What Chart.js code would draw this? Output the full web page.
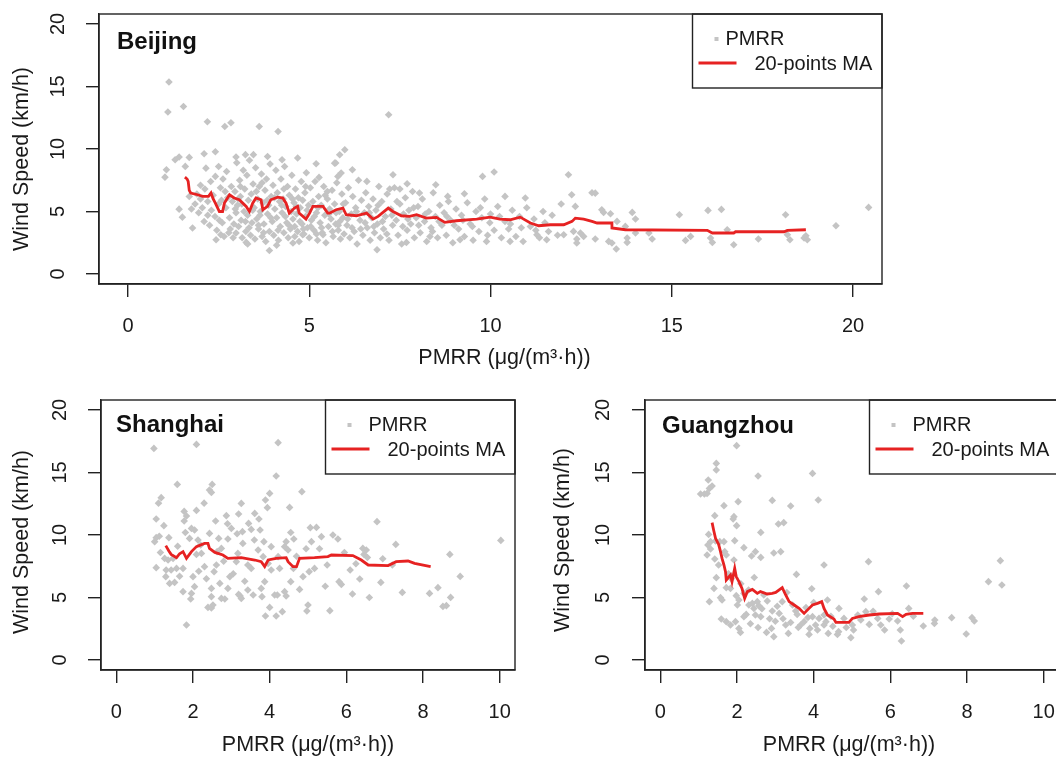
<!DOCTYPE html>
<html>
<head>
<meta charset="utf-8">
<script src="https://cdn.jsdelivr.net/npm/chart.js@4.4.1/dist/chart.umd.min.js"></script>
<style>
  html, body { margin: 0; padding: 0; background: #fff; }
  body { position: relative; width: 1056px; height: 759px; overflow: hidden; }
  canvas { position: absolute; }
  #beijing { left: 0; top: 0; }
  #shanghai { left: 0; top: 385px; }
  #guangzhou { left: 545px; top: 385px; }
</style>
</head>
<body>
<canvas id="beijing" width="1056" height="375"></canvas>
<canvas id="shanghai" width="530" height="374"></canvas>
<canvas id="guangzhou" width="530" height="374"></canvas>
<script>
// ---- data: [PMRR, wind speed] ----
const speedTicks = [0, 5, 10, 15, 20];
const wideTicks = [0, 5, 10, 15, 20];
const narrowTicks = [0, 2, 4, 6, 8, 10];

const beijingPoints = [
  [1.13,15.36],[1.10,12.96],[1.53,13.4],[2.19,12.18],[2.67,11.8],[2.84,12.1],[3.62,11.8],[4.14,11.4],[7.19,12.74],
  [1.02,7.75],[1.06,8.34],[1.30,9.14],[1.41,9.36],[1.69,9.33],[1.58,8.61],[2.10,9.62],[2.41,9.78],[2.15,8.47],[2.41,7.81],
  [1.41,5.19],[1.50,4.55],[1.78,3.68],[1.69,6.2],[2.43,2.74],[2.56,3.14],[2.98,3.28],[3.26,2.53],[3.90,1.88],[4.55,2.48],[4.82,3.14],[5.38,3.14],
  [2.98,9.36],[3.24,9.55],[3.46,9.55],[3.85,9.4],[4.25,9.14],[4.68,9.28],[5.19,8.82],[5.27,7.73],[5.70,8.87],[5.79,7.81],
  [5.98,9.94],[5.84,9.54],[5.73,8.88],[5.88,8.08],[6.19,8.34],[7.31,7.94],[6.59,7.41],[7.22,6.8],[7.50,6.8],[7.70,7.22],[8.49,7.14],
  [9.78,7.81],[10.10,8.16],[12.15,7.94],[12.24,6.34],[10.40,6.21],[10.96,6.08],[9.28,6.42],[8.82,6.21],[8.04,6.48],
  [6.87,1.94],[7.68,2.52],[8.33,3.0],[9.16,2.74],[9.89,2.61],[10.54,2.61],[11.28,3.14],[11.55,2.74],[12.02,3.14],[12.38,2.48],
  [12.8,6.5],[12.89,6.47],[12.34,5.41],[13.07,5.14],[13.12,4.93],[13.31,4.82],[13.49,4.21],[13.91,4.93],[14.0,4.40],
  [12.29,3.41],[12.48,3.28],[12.38,2.80],[12.57,3.01],[12.89,2.8],[13.26,2.61],[13.35,2.48],[13.47,2.0],[13.72,3.81],
  [13.77,2.88],[13.77,2.53],[14.0,3.28],[14.37,3.28],[14.46,2.8],[15.21,4.74],[15.38,2.69],[15.52,3.01],[16.0,5.09],
  [16.37,5.17],[16.07,2.88],[16.12,2.53],[16.53,3.54],[16.71,2.34],[17.39,2.8],[18.14,4.74],[18.19,3.14],[18.26,2.74],
  [18.65,2.88],[18.74,2.74],[18.70,3.06],[19.53,3.86],[20.43,5.33],
  [1.85,5.6],[1.9,6.4],[1.95,4.9],[2.0,7.1],[2.05,5.3],[2.1,4.2],[2.12,6.8],[2.2,5.8],[2.25,3.9],[2.28,7.4],[2.3,5.1],
  [2.35,6.3],[2.4,4.6],[2.45,3.5],[2.5,8.6],[2.5,5.6],[2.55,6.9],[2.6,4.1],[2.62,7.6],[2.65,3.0],[2.7,5.3],[2.72,8.2],
  [2.75,6.1],[2.8,4.5],[2.82,3.6],[2.85,7.0],[2.88,5.8],[2.9,2.9],[2.95,6.6],[2.98,4.9],
  [3.0,8.9],[3.02,5.5],[3.05,3.8],[3.08,7.5],[3.1,6.2],[3.12,4.3],[3.15,2.9],[3.18,8.3],[3.2,5.0],[3.22,6.8],[3.25,3.4],
  [3.28,7.9],[3.3,4.7],[3.32,5.9],[3.35,9.1],[3.38,3.1],[3.4,6.4],[3.42,4.1],[3.45,7.2],[3.48,5.3],[3.5,2.8],[3.52,8.5],
  [3.55,4.4],[3.58,6.0],[3.6,3.6],[3.62,7.0],[3.65,5.0],[3.68,8.0],[3.7,3.0],[3.72,5.7],[3.75,4.0],[3.78,6.7],[3.8,2.6],
  [3.82,7.6],[3.85,4.8],[3.88,5.5],[3.9,3.4],[3.92,8.8],[3.95,6.2],[3.98,4.2],
  [4.0,7.1],[4.02,3.1],[4.05,5.2],[4.08,8.3],[4.1,4.5],[4.12,6.5],[4.15,2.7],[4.18,5.8],[4.2,3.8],[4.22,7.6],[4.25,4.9],
  [4.28,6.0],[4.3,3.3],[4.32,8.6],[4.35,5.4],[4.38,4.1],[4.4,7.0],[4.42,2.9],[4.45,6.3],[4.48,3.6],[4.5,5.0],[4.52,7.9],
  [4.55,4.4],[4.58,5.7],[4.6,3.0],[4.62,6.8],[4.65,4.8],[4.68,3.4],[4.7,6.1],[4.72,2.6],[4.75,5.3],[4.78,7.4],[4.8,4.0],
  [4.82,5.9],[4.85,3.2],[4.88,6.5],[4.9,4.6],[4.92,8.1],[4.95,3.7],[4.98,5.5],
  [5.0,2.9],[5.03,6.9],[5.06,4.3],[5.1,5.8],[5.13,3.5],[5.16,7.4],[5.2,4.9],[5.23,2.7],[5.26,6.2],[5.3,4.1],[5.33,5.5],
  [5.36,3.3],[5.4,7.0],[5.43,4.7],[5.46,2.5],[5.5,6.0],[5.53,3.8],[5.56,5.2],[5.6,4.4],[5.63,6.7],[5.66,3.0],[5.7,5.6],
  [5.73,4.0],[5.76,7.3],[5.8,3.5],[5.83,5.0],[5.86,2.8],[5.9,6.4],[5.93,4.5],[5.96,3.2],
  [6.0,5.7],[6.04,3.9],[6.08,6.9],[6.12,2.9],[6.16,4.8],[6.2,6.2],[6.24,3.4],[6.28,5.3],[6.32,2.4],[6.36,7.5],[6.4,4.3],
  [6.44,5.9],[6.48,3.1],[6.52,4.9],[6.56,6.5],[6.6,3.7],[6.64,5.4],[6.68,2.7],[6.72,4.5],[6.76,6.0],[6.8,3.3],[6.84,5.1],
  [6.88,4.0],[6.92,7.0],[6.96,2.9],
  [7.0,5.8],[7.05,3.6],[7.1,4.6],[7.15,6.4],[7.2,2.7],[7.25,5.2],[7.3,3.9],[7.35,6.9],[7.4,4.3],[7.45,3.1],[7.5,5.6],
  [7.55,2.4],[7.6,4.8],[7.65,6.1],[7.7,3.5],[7.75,5.1],[7.8,4.0],[7.85,6.6],[7.9,2.9],[7.95,4.5],
  [8.0,5.4],[8.06,3.3],[8.12,6.0],[8.18,4.2],[8.24,2.6],[8.3,5.0],[8.36,3.7],[8.42,6.5],[8.48,4.6],[8.54,2.9],[8.6,5.5],
  [8.66,3.9],[8.72,4.9],[8.78,3.1],[8.84,5.8],[8.9,4.3],[8.96,2.5],
  [9.05,5.2],[9.12,3.6],[9.2,4.7],[9.28,3.0],[9.36,5.7],[9.44,4.0],[9.52,2.7],[9.6,5.0],[9.68,3.4],[9.76,4.5],[9.84,6.0],[9.92,3.1],
  [10.0,4.8],[10.1,3.5],[10.2,5.4],[10.3,2.9],[10.4,4.2],[10.5,3.6],[10.6,5.1],[10.7,3.0],[10.8,4.6],[10.9,2.6],
  [11.0,5.3],[11.1,3.8],[11.2,4.4],[11.35,2.9],[11.45,5.0],[11.6,3.4],[11.7,4.7],[11.85,3.1],[11.95,5.6],
  [2.52,4.3],[2.58,5.9],[2.68,6.6],[2.78,3.3],[2.92,4.0],[2.96,5.2],[3.04,6.0],[3.14,5.6],[3.24,4.2],[3.34,3.7],[3.44,5.1],
  [3.54,6.6],[3.64,4.7],[3.74,3.3],[3.84,5.9],[3.94,4.5],[4.04,6.1],[4.14,3.5],[4.24,5.5],[4.34,4.6],[4.44,3.9],[4.54,6.0],
  [4.64,5.4],[4.74,4.2],[4.84,3.6],[4.94,5.1],[5.04,3.8],[5.14,4.6],[5.24,5.3],[5.34,3.7],[5.44,6.3],[5.54,4.8],[5.64,3.4],
  [5.74,4.9],[5.84,4.2],[5.94,5.6],[6.06,4.4],[6.18,3.7],[6.3,5.0],[6.42,3.6],[6.54,4.1],[6.66,4.9],[6.78,3.8],[6.9,5.5],
  [7.02,4.2],[7.14,3.2],[7.28,4.7],[7.42,5.8],[7.58,3.8],[7.72,4.4],[7.88,5.3],[8.02,3.9],[8.2,4.8],[8.4,3.4],[8.58,4.2],
  [8.8,4.6],[9.0,3.9],[9.24,4.3],[9.5,3.8],[9.72,5.3],[9.98,4.1],[10.25,4.6],[10.55,4.0],[10.85,3.7],[11.25,3.5],[11.5,4.1],
  [3.1,7.0],[3.7,7.3],[4.3,6.8],[4.9,7.0],[5.5,6.6],[2.2,4.7],[2.0,6.0],[1.75,5.2],[3.6,3.9],[4.6,3.8],[5.2,3.2],[5.8,3.9],
  [4.1,2.3],[3.3,2.4]
];
const beijingMA = [
  [1.57,7.75],[1.63,7.6],[1.66,7.41],[1.69,6.69],[1.73,6.48],[1.92,6.34],[2.06,6.21],[2.22,6.21],[2.29,6.48],[2.35,6.0],
  [2.41,5.67],[2.52,5.0],[2.61,5.0],[2.66,5.67],[2.8,6.34],[2.93,6.08],[3.07,5.94],[3.26,5.41],[3.35,5.0],[3.44,5.67],
  [3.53,6.08],[3.67,5.94],[3.72,5.14],[3.85,5.41],[3.94,5.94],[4.13,6.15],[4.27,6.08],[4.36,5.67],[4.45,4.87],[4.59,5.27],
  [4.68,5.41],[4.72,4.87],[4.91,4.39],[5.01,4.87],[5.10,5.41],[5.38,5.41],[5.51,4.87],[5.56,4.87],[5.74,5.14],[5.93,5.27],
  [6.02,4.74],[6.30,4.66],[6.58,4.87],[6.76,4.39],[6.90,4.61],[7.18,5.27],[7.31,5.0],[7.54,4.66],[7.77,4.61],[7.96,4.74],
  [8.23,4.47],[8.51,4.53],[8.74,4.13],[9.06,4.26],[9.62,4.39],[9.99,4.55],[10.26,4.39],[10.54,4.34],[10.82,4.55],[11.1,4.08],
  [11.33,3.86],[11.65,3.94],[12.02,3.94],[12.25,4.21],[12.34,4.47],[12.57,4.39],[12.8,4.21],[12.94,4.08],[13.35,4.08],
  [13.35,3.68],[13.72,3.54],[15.98,3.49],[16.12,3.28],[16.71,3.28],[16.76,3.38],[18.1,3.38],[18.19,3.49],[18.70,3.54]
];

const shanghaiPoints = [
  [0.98,16.93],[2.09,17.25],[4.22,17.39],[4.17,14.72],[4.84,13.47],[1.59,14.05],[2.50,14.05],[2.48,13.41],[2.43,13.6],
  [1.17,12.99],[1.10,12.55],[1.04,11.28],[2.29,12.55],[2.09,11.97],[1.77,11.89],[1.83,11.52],[1.77,11.12],[3.26,12.53],
  [3.19,11.68],[3.45,10.93],[2.87,11.55],[2.59,11.12],[3.89,12.8],[4.0,13.33],[3.94,12.19],[3.61,11.73],[3.72,11.28],
  [4.52,12.21],[1.24,10.75],[1.04,9.79],[1.0,9.47],[1.37,9.79],[1.96,10.53],[2.04,10.4],[1.91,9.73],[2.13,9.6],[2.43,10.13],
  [2.67,9.73],[3.0,10.53],[2.91,9.68],[3.29,10.27],[3.30,9.33],[3.52,10.45],[3.85,9.47],[4.04,9.07],[4.43,9.47],[4.39,9.07],
  [4.48,8.8],[4.63,9.68],[5.06,10.59],[5.22,10.61],[5.35,9.87],[5.09,9.47],[5.78,9.68],[6.43,8.93],[6.52,8.8],[6.46,8.45],
  [6.80,11.07],[7.29,9.25],[8.70,8.45],[10.03,9.57],[8.97,6.69],[8.39,5.79],[8.17,5.33],[8.72,5.01],[8.61,4.35],[8.52,4.29],
  [7.46,5.41],[6.90,6.21],[6.16,5.28],[6.35,6.48],[5.81,6.27],[5.87,6.05],[6.10,7.2],[5.57,3.95],[4.97,3.92],[5.0,4.4],
  [4.78,5.65],[4.87,6.67],[5.17,7.33],[5.03,7.07],[4.55,6.27],[4.62,7.33],[4.17,3.52],[4.33,3.87],[3.89,3.52],[4.0,4.21],
  [3.8,5.07],[4.13,5.2],[4.2,5.2],[4.43,5.12],[4.39,5.47],[3.78,5.73],[3.87,6.27],[3.57,5.2],[3.43,5.6],[3.23,5.12],
  [3.26,4.93],[3.19,5.25],[2.96,6.67],[2.70,6.13],[2.91,5.73],[2.74,4.93],[2.83,4.88],[2.48,5.07],[2.48,5.73],[2.39,4.21],
  [2.48,4.16],[2.52,4.4],[2.0,6.67],[2.04,5.87],[1.96,5.33],[1.94,4.88],[1.74,5.47],[1.83,2.8],[1.39,6.13],[1.52,6.21],
  [1.29,6.67],[1.30,7.2],[1.43,7.2],[1.57,7.33],[1.74,7.33],[1.04,7.39],[1.26,8.13],[1.35,8.0],[1.48,8.13],[2.30,7.47],
  [2.55,7.07],[2.61,7.6],[2.74,8.93],[2.63,8.67],[2.22,8.53],[2.09,8.45],[3.17,8.53],[3.13,7.87],[3.43,7.6],[3.52,7.33],
  [3.70,8.8],[3.83,8.27],[3.96,7.73],[4.04,7.2],[4.22,8.27],[4.26,7.33],
  [1.12,9.9],[1.6,9.1],[1.8,10.2],[2.2,9.2],[2.35,6.5],[2.8,7.9],[3.05,6.9],[3.35,6.3],[3.6,9.6],[3.15,10.1],[4.7,8.3],
  [5.3,8.9],[5.5,7.6],[5.95,8.6],[6.25,7.7],[6.6,5.0],[5.45,5.9],[4.95,8.9],[1.15,8.6],[1.65,6.7],[2.15,7.1],[2.9,10.9],
  [3.75,10.4],[4.55,10.2],[5.65,10.0],[6.55,8.2],[7.2,7.6],[6.95,8.1]
];
const shanghaiMA = [
  [1.29,9.15],[1.37,8.72],[1.43,8.45],[1.57,8.19],[1.65,8.5],[1.74,8.67],[1.83,8.13],[1.96,8.67],[2.09,9.07],[2.30,9.33],
  [2.39,9.33],[2.43,8.93],[2.57,8.61],[2.78,8.4],[2.91,8.13],[3.26,8.19],[3.61,8.0],[3.78,7.87],[3.87,7.47],[3.96,8.0],
  [4.17,8.13],[4.43,8.19],[4.48,7.87],[4.61,7.47],[4.70,7.47],[4.78,8.13],[5.17,8.19],[5.52,8.27],[5.61,8.4],[6.17,8.35],
  [6.39,8.0],[6.57,7.6],[7.09,7.55],[7.30,7.87],[7.61,7.92],[7.78,7.73],[8.2,7.47]
];

const guangzhouPoints = [
  [1.99,17.15],[1.46,15.73],[1.46,15.2],[1.25,14.4],[1.35,13.92],[1.28,13.73],[1.05,13.28],[1.15,13.28],[1.22,13.33],
  [2.55,14.72],[3.97,14.93],[4.12,12.8],[2.92,12.77],[3.40,12.32],[2.03,12.67],[1.66,12.35],[1.42,11.55],[1.92,11.47],
  [1.90,11.28],[1.99,10.75],[3.08,10.88],[3.22,10.99],[2.62,10.21],[1.26,10.05],[1.31,9.47],[1.94,9.55],[1.66,9.47],
  [2.18,8.99],[1.68,8.67],[1.72,8.4],[2.48,8.67],[2.38,8.32],[2.62,8.21],[2.96,8.56],[3.14,8.67],[1.22,8.4],[1.31,8.88],
  [1.42,8.08],[1.92,8.0],[4.27,7.6],[3.55,6.85],[5.43,7.87],[8.87,7.95],[8.56,6.27],[8.91,6.0],[6.42,5.92],[5.69,5.47],
  [5.32,4.88],[6.48,4.13],[1.46,6.59],[1.40,5.73],[1.72,5.79],[1.83,5.73],[1.28,4.67],[1.57,4.99],[1.61,4.8],[1.98,5.15],
  [2.05,4.8],[2.01,4.4],[2.18,5.33],[1.59,3.28],[1.72,3.07],[1.83,2.8],[1.96,3.07],[2.05,2.53],[2.09,2.21],[2.18,3.47],
  [2.24,3.65],[2.31,4.4],[2.40,4.53],[2.44,4.13],[2.57,4.35],[2.53,4.67],[2.70,5.2],[2.79,4.72],[2.48,3.6],[2.62,3.47],
  [2.77,2.21],[2.90,2.53],[2.96,1.87],[2.92,3.92],[3.10,3.73],[3.18,4.67],[3.27,2.8],[3.34,2.13],[3.53,3.92],[3.57,3.65],
  [3.66,2.8],[3.75,3.07],[3.88,2.05],[3.90,2.53],[3.97,3.47],[4.14,3.33],[4.27,3.6],[4.05,2.8],[4.27,2.8],[4.32,3.07],
  [4.36,4.8],[4.38,2.13],[4.62,2.05],[4.65,2.27],[4.66,4.13],[4.79,3.33],[4.97,1.79],[5.04,2.4],[5.01,2.8],[5.23,3.2],
  [5.36,3.87],[5.45,2.85],[5.67,3.33],[5.75,2.8],[5.97,3.28],[6.19,3.12],[6.26,2.4],[6.29,1.52],[6.86,2.72],[7.16,3.2],
  [7.15,2.93],[7.60,3.39],[7.98,2.08],[8.13,3.39],[8.19,3.12],[1.24,9.2],[1.44,9.52],[1.55,9.47],
  [2.3,5.6],[2.65,4.1],[2.85,3.3],[3.05,4.3],[3.2,3.3],[3.45,4.4],[3.6,2.6],[3.8,4.2],[3.85,3.4],[4.0,4.6],[4.1,2.4],
  [4.45,3.5],[4.5,2.7],[4.85,2.6],[5.15,3.6],[5.55,3.9],[5.85,2.4],[6.05,3.7],[6.6,3.5],[2.35,2.9],[2.55,2.6],[3.0,3.1],
  [3.4,3.0],[1.85,6.5],[1.52,7.6],[1.78,6.9],[2.1,6.1],[2.45,6.6],[3.3,5.4],[3.95,5.7]
];
const guangzhouMA = [
  [1.35,10.99],[1.39,10.4],[1.44,9.73],[1.52,9.25],[1.57,8.67],[1.61,8.13],[1.66,7.6],[1.70,7.07],[1.72,6.4],[1.83,6.8],
  [1.87,6.27],[1.94,7.33],[1.98,6.67],[2.05,6.27],[2.13,5.73],[2.2,4.93],[2.27,5.47],[2.40,5.65],[2.53,5.33],[2.61,5.47],
  [2.79,5.28],[2.92,5.33],[3.01,5.41],[3.18,5.79],[3.27,5.2],[3.36,4.67],[3.49,4.4],[3.62,4.13],[3.75,3.73],[3.88,4.13],
  [3.97,4.4],[4.10,4.53],[4.21,4.67],[4.27,4.13],[4.36,3.6],[4.53,3.28],[4.58,3.01],[4.92,3.01],[5.01,3.33],[5.18,3.47],
  [5.45,3.6],[5.71,3.68],[6.19,3.73],[6.32,3.47],[6.41,3.65],[6.58,3.73],[6.86,3.73]
];

// ---- styling ----
const fontFamily = "'Liberation Sans', Arial, sans-serif";
const inkColor = "#222222";
const textColor = "#1a1a1a";
const pointGray = "#c4c4c4";
const lineRed = "#e62222";
const xTitle = "PMRR (\u03bcg/(m\u00b3\u00b7h))";
const yTitle = "Wind Speed (km/h)";

function nudgeTitle(axis, dx, dy) {
    if (axis.drawTitle !== Object.getPrototypeOf(axis).drawTitle) return;
    const draw = axis.drawTitle;
    axis.drawTitle = function () {
        this.ctx.save();
        this.ctx.translate(dx, dy);
        draw.call(this);
        this.ctx.restore();
    };
}

// box round the plot, city name and the legend
const panelDecor = {
    id: "panelDecor",
    afterDraw(chart, args, opts) {
        const { ctx, chartArea: a } = chart;
        const sets = chart.data.datasets;
        ctx.save();
        ctx.strokeStyle = inkColor;
        ctx.lineWidth = 1.4;
        ctx.strokeRect(a.left, a.top, a.right - a.left, a.bottom - a.top);

        ctx.fillStyle = "#111";
        ctx.font = "bold 24px " + fontFamily;
        ctx.textBaseline = "alphabetic";
        ctx.textAlign = "left";
        ctx.fillText(opts.city, a.left + opts.cityDx, a.top + opts.cityDy);

        const lw = 189.5, lh = 74;
        const lx = a.right - lw, ly = a.top;
        ctx.strokeRect(lx, ly, lw, lh);
        ctx.fillStyle = pointGray;
        ctx.fillRect(lx + 22, ly + 23, 4, 4);
        ctx.strokeStyle = lineRed;
        ctx.lineWidth = 2.8;
        ctx.beginPath();
        ctx.moveTo(lx + 6, ly + 49);
        ctx.lineTo(lx + 44, ly + 49);
        ctx.stroke();
        ctx.fillStyle = textColor;
        ctx.font = "20px " + fontFamily;
        ctx.textBaseline = "middle";
        ctx.fillText(sets[1].label, lx + opts.pointTextDx, ly + 25);
        ctx.fillText(sets[0].label, lx + 62, ly + 50);
        ctx.restore();
    }
};

function createPanel(canvasId, p) {
    const ctx = document.getElementById(canvasId);
    return new Chart(ctx, {
        type: "scatter",
        data: {
            datasets: [{
                label: "20-points MA",
                data: p.ma,
                showLine: true,
                borderColor: lineRed,
                borderWidth: 2.8,
                pointRadius: 0,
                tension: 0
            },
            {
                label: "PMRR",
                data: p.points,
                pointStyle: "rectRot",
                pointRadius: 3.8,
                backgroundColor: pointGray,
                borderWidth: 0
            }]
        },
        options: {
            responsive: false,
            animation: false,
            events: [],
            layout: {
                autoPadding: false,
                padding: { left: 0, top: p.padTop, right: p.padRight, bottom: 0 }
            },
            scales: {
                x: {
                    type: "linear",
                    min: p.xMin,
                    max: p.xMax,
                    afterBuildTicks: function(axis) {
                        axis.ticks = p.xTicks.map(v => ({ value: v }));
                    },
                    afterFit: function(axis) {
                        axis.height = p.xHeight;
                        axis.paddingLeft = 0;
                        axis.paddingRight = 0;
                        nudgeTitle(axis, p.xTitleDx, 0);
                    },
                    grid: { drawOnChartArea: false, tickLength: 13, color: inkColor, lineWidth: 1.4 },
                    border: { display: true, color: inkColor, width: 1.4 },
                    ticks: {
                        padding: 17,
                        autoSkip: false,
                        maxRotation: 0,
                        minRotation: 0,
                        color: textColor,
                        font: { family: fontFamily, size: 20 }
                    },
                    title: {
                        display: true,
                        text: xTitle,
                        color: textColor,
                        font: { family: fontFamily, size: 21.5 },
                        padding: { top: 0, bottom: p.xTitlePad }
                    }
                },
                y: {
                    type: "linear",
                    min: -0.8,
                    max: 20.8,
                    afterBuildTicks: function(axis) {
                        axis.ticks = speedTicks.map(v => ({ value: v }));
                    },
                    afterFit: function(axis) {
                        axis.width = p.yWidth;
                        axis.paddingTop = 0;
                        axis.paddingBottom = 0;
                        nudgeTitle(axis, 0, p.yTitleDy);
                    },
                    grid: { drawOnChartArea: false, tickLength: 13, color: inkColor, lineWidth: 1.4 },
                    border: { display: true, color: inkColor, width: 1.4 },
                    ticks: {
                        padding: p.yTickPad,
                        crossAlign: "center",
                        minRotation: 90,
                        maxRotation: 90,
                        color: textColor,
                        font: { family: fontFamily, size: 20 }
                    },
                    title: {
                        display: true,
                        text: yTitle,
                        color: textColor,
                        font: { family: fontFamily, size: 21.5 },
                        padding: { top: p.yTitlePad, bottom: 0 }
                    }
                }
            },
            plugins: {
                legend: { display: false },
                tooltip: { enabled: false },
                panelDecor: {
                    city: p.city,
                    cityDx: p.cityDx,
                    cityDy: p.cityDy,
                    pointTextDx: p.pointTextDx
                }
            }
        },
        plugins: [panelDecor]
    });
}

createPanel("beijing", {
    city: "Beijing", points: beijingPoints, ma: beijingMA,
    xMin: -0.8, xMax: 20.8, xTicks: wideTicks,
    padTop: 14, padRight: 174, yWidth: 99, xHeight: 91,
    yTickPad: 16, yTitlePad: 9, xTitlePad: 4, xTitleDx: 14, yTitleDy: 10,
    cityDx: 18, cityDy: 35, pointTextDx: 33
});

createPanel("shanghai", {
    city: "Shanghai", points: shanghaiPoints, ma: shanghaiMA,
    xMin: -0.4, xMax: 10.4, xTicks: narrowTicks,
    padTop: 15, padRight: 15, yWidth: 101, xHeight: 89,
    yTickPad: 16, yTitlePad: 9, xTitlePad: 1, xTitleDx: 0, yTitleDy: 7,
    cityDx: 15, cityDy: 32, pointTextDx: 43
});

createPanel("guangzhou", {
    city: "Guangzhou", points: guangzhouPoints, ma: guangzhouMA,
    xMin: -0.4, xMax: 10.4, xTicks: narrowTicks,
    padTop: 15, padRight: 16, yWidth: 100, xHeight: 89,
    yTickPad: 17, yTitlePad: 5.6, xTitlePad: 1, xTitleDx: -3, yTitleDy: 5,
    cityDx: 17, cityDy: 33, pointTextDx: 43
});
</script>
</body>
</html>
